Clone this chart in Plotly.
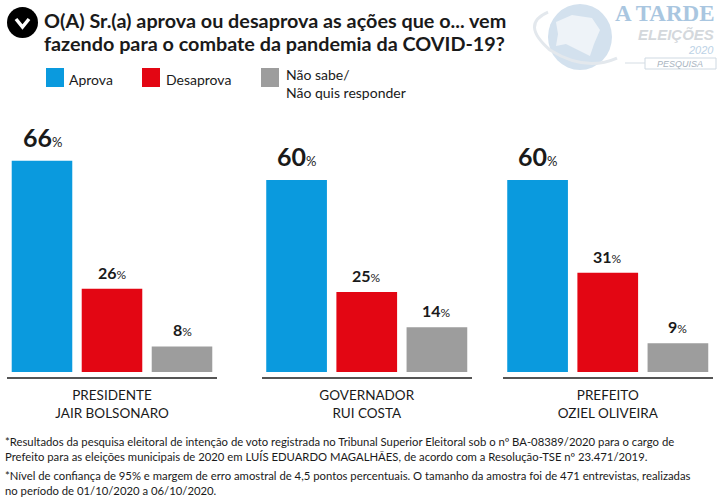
import plotly.graph_objects as go

W, H = 723, 501

# values
options = ['Aprova', 'Desaprova', 'Não sabe/<br>Não quis responder']
colors = ['#0a9ade', '#e30613', '#9d9d9d']
panels = ['PRESIDENTE<br>JAIR BOLSONARO', 'GOVERNADOR<br>RUI COSTA', 'PREFEITO<br>OZIEL OLIVEIRA']
aprova = [66, 60, 60]
desaprova = [26, 25, 31]
nao_sabe = [8, 14, 9]

title_lines = ['<b>O(A) Sr.(a) aprova ou desaprova as ações que o... vem</b>',
               '<b>fazendo para o combate da pandemia da COVID-19?</b>']
notes = [
    '*Resultados da pesquisa eleitoral de intenção de voto registrada no Tribunal Superior Eleitoral sob o nº BA-08389/2020 para o cargo de<br>'
    'Prefeito para as eleições municipais de 2020 em LUÍS EDUARDO MAGALHÃES, de acordo com a Resolução-TSE nº 23.471/2019.',
    '*Nível de confiança de 95% e margem de erro amostral de 4,5 pontos percentuais. O tamanho da amostra foi de 471 entrevistas, realizadas<br>'
    'no período de 01/10/2020 a 06/10/2020.',
]

FONT = 'Lato, sans-serif'
TEXT = '#1a1a1a'


def px(x):
    return x / W


def py(y):
    return 1 - y / H


def paper_path(points, closed=False):
    # svg path in paper coords from pixel points
    parts = [f'{"M" if i == 0 else "L"} {px(x):.4f} {py(y):.4f}' for i, (x, y) in enumerate(points)]
    return ' '.join(parts) + (' Z' if closed else '')


fig = go.Figure()

# pixel extents of each group of bars, the axis line follows them
axis_spans = [(7, 217), (261.5, 472), (502.5, 713)]

annotations = []
layout_axes = {}
for i, (name, span) in enumerate(zip(panels, axis_spans)):
    suffix = '' if i == 0 else str(i + 1)
    values = [aprova[i], desaprova[i], nao_sabe[i]]
    fig.add_trace(go.Bar(
        x=[0, 1, 2],
        y=values,
        width=0.865,
        marker=dict(color=colors, line=dict(width=0)),
        showlegend=False,
        xaxis='x' + suffix,
        yaxis='y' + suffix,
    ))
    layout_axes['xaxis' + suffix] = dict(
        domain=[px(span[0]), px(span[1])],
        range=[-0.5, 2.5],
        anchor='free',
        position=py(378),
        tickmode='array',
        tickvals=[1],
        ticktext=[name],
        ticks='',
        showline=True,
        linecolor='#555555',
        linewidth=1.5,
        showgrid=False,
        zeroline=False,
        tickfont=dict(family=FONT, size=13.5, color=TEXT),
        ticklabelstandoff=5,
        fixedrange=True,
    )
    layout_axes['yaxis' + suffix] = dict(
        domain=[py(372), py(100)],
        range=[0, 85],
        anchor='x' + suffix,
        visible=False,
        fixedrange=True,
    )
    # value labels, the big one goes on the first bar of each group
    for j, v in enumerate(values):
        big = j == 0
        annotations.append(dict(
            x=j, y=v,
            xref='x' + suffix, yref='y' + suffix,
            text=f'<b>{v}</b><span style="font-size:{13 if big else 12}px">%</span>',
            showarrow=False,
            yanchor='bottom',
            yshift=7 if big else 5,
            font=dict(family=FONT, size=25 if big else 16, color=TEXT),
        ))

# hand made legend, the swatches are taller than a native one allows
legend_x = [(46, 67), (142, 164), (261, 284)]
legend_top = [69, 69, 64]
shapes = []
for (x0, tx), top, col, label in zip(legend_x, legend_top, colors, options):
    shapes.append(dict(type='rect', xref='paper', yref='paper',
                       x0=px(x0), x1=px(x0 + 18), y0=py(87), y1=py(68),
                       fillcolor=col, line=dict(width=0)))
    annotations.append(dict(
        x=px(tx), y=py(top), xref='paper', yref='paper',
        text=label, showarrow=False, xanchor='left', yanchor='top', align='left',
        font=dict(family=FONT, size=14, color=TEXT),
    ))

# bullet next to the question
shapes.append(dict(type='circle', xref='paper', yref='paper',
                   x0=px(7), x1=px(38), y0=py(38), y1=py(7),
                   fillcolor='#000000', line=dict(width=0)))
shapes.append(dict(type='path', xref='paper', yref='paper',
                   path=paper_path([(16, 19), (22.5, 27), (29, 19)]),
                   line=dict(color='white', width=3.5)))

# faded logo top right: globe, state outline, swoosh, label box
shapes.append(dict(type='circle', xref='paper', yref='paper',
                   x0=px(548), x1=px(612), y0=py(70), y1=py(4),
                   fillcolor='#d3e1ee', line=dict(width=0)))
shapes.append(dict(type='path', xref='paper', yref='paper',
                   path=paper_path([(556, 22), (572, 15), (592, 18), (600, 30), (594, 44),
                                    (590, 56), (578, 50), (566, 44), (556, 46), (558, 34)], closed=True),
                   fillcolor='#eef3f8', line=dict(width=0)))
shapes.append(dict(type='path', xref='paper', yref='paper',
                   path=f'M {px(548):.4f} {py(12):.4f} Q {px(520):.4f} {py(24):.4f} {px(550):.4f} {py(50):.4f} '
                        f'Q {px(585):.4f} {py(72):.4f} {px(617):.4f} {py(58):.4f}',
                   line=dict(color='#e3e8ed', width=3)))
shapes.append(dict(type='rect', xref='paper', yref='paper',
                   x0=px(645), x1=px(716), y0=py(69), y1=py(58),
                   fillcolor='white', line=dict(color='#cfd9e2', width=1)))
shapes.append(dict(type='line', xref='paper', yref='paper',
                   x0=px(625), x1=px(645), y0=py(63), y1=py(63),
                   line=dict(color='#d5dde4', width=1)))
logo = [
    ('<b>A TARDE</b>', 716, 14, 'Liberation Serif', 23, '#a9c6e0'),
    ('<b><i>ELEIÇÕES</i></b>', 716, 35, 'Liberation Sans', 15, '#d4d8dc'),
    ('<i>2020</i>', 716, 50, 'Liberation Sans', 11, '#bcd2e6'),
    ('<i>PESQUISA</i>', 705, 64, 'Liberation Sans', 9, '#a9b4bf'),
]
for text, x, y, fam, size, col in logo:
    annotations.append(dict(
        x=px(x), y=py(y), xref='paper', yref='paper', text=text, showarrow=False,
        xanchor='right', yanchor='middle', font=dict(family=fam, size=size, color=col),
    ))

for line, y in zip(title_lines, [20, 43]):
    annotations.append(dict(
        x=px(42), y=py(y), xref='paper', yref='paper', text=line, showarrow=False,
        xanchor='left', yanchor='middle', align='left',
        font=dict(family=FONT, size=19.8, color=TEXT),
    ))
for note, y in zip(notes, [433, 467]):
    annotations.append(dict(
        x=px(3), y=py(y), xref='paper', yref='paper', text=note, showarrow=False,
        xanchor='left', yanchor='top', align='left',
        font=dict(family=FONT, size=11.3, color=TEXT),
    ))

fig.update_layout(
    width=W, height=H,
    margin=dict(l=0, r=0, t=0, b=0),
    paper_bgcolor='white',
    plot_bgcolor='white',
    annotations=annotations,
    shapes=shapes,
    **layout_axes,
)

# page has a default body margin, drop it so the figure fills the window
fig.write_html("out.html", config=dict(displayModeBar=False), post_script="document.body.style.margin='0';")
